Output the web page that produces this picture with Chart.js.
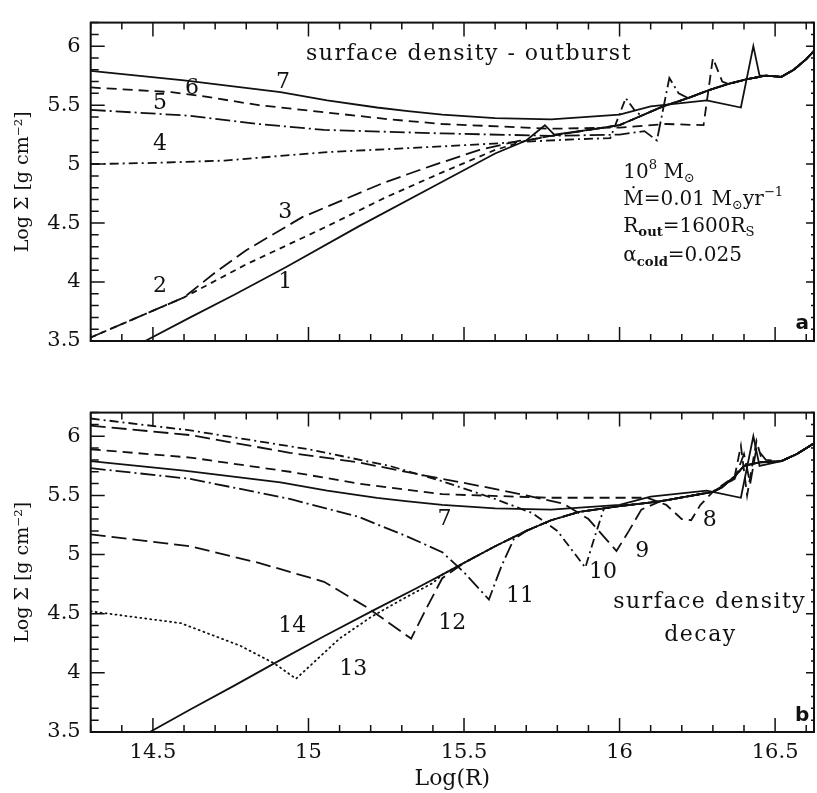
<!DOCTYPE html>
<html>
<head>
<meta charset="utf-8">
<script src="https://cdn.jsdelivr.net/npm/chart.js@4.4.1/dist/chart.umd.min.js"></script>
<style>
  html, body { margin: 0; padding: 0; background: #fff; }
  #wrap { position: relative; width: 817px; height: 793px; }
  .panel { position: absolute; left: 0; width: 817px; }
  #pa { top: 0; height: 380px; }
  #pb { top: 390px; height: 403px; }
</style>
</head>
<body>
<div id="wrap">
  <div class="panel" id="pa"><canvas id="chartA"></canvas></div>
  <div class="panel" id="pb"><canvas id="chartB"></canvas></div>
</div>
<script>
// axes
const xTicks = [14.5, 15, 15.5, 16, 16.5];
const xTickLabels = ['14.5', '15', '15.5', '16', '16.5'];
const yTicks = [3.5, 4, 4.5, 5, 5.5, 6];
const yTickLabels = ['3.5', '4', '4.5', '5', '5.5', '6'];

// --- panel a : outburst ---
// common outer (cold) profile all curves end on
const aTailX = [15.7, 15.78, 15.9, 16.0, 16.07, 16.14, 16.22, 16.29, 16.35, 16.41, 16.47, 16.52, 16.56, 16.6, 16.625];
const aTailY = [5.2, 5.24, 5.29, 5.33, 5.41, 5.49, 5.56, 5.63, 5.68, 5.72, 5.75, 5.74, 5.8, 5.89, 5.96];

const a1X = [14.475, 14.62, 14.76, 14.93, 15.16, 15.43, 15.6, 15.7, 15.76, 15.79];
const a1Y = [3.5, 3.70, 3.89, 4.13, 4.47, 4.85, 5.09, 5.2, 5.33, 5.25];
const a2X = [14.3, 14.45, 14.6, 14.8, 15.05, 15.25, 15.43, 15.6, 15.7];
const a2Y = [3.53, 3.7, 3.87, 4.15, 4.46, 4.72, 4.93, 5.12, 5.2];
const a3X = [14.3, 14.45, 14.6, 14.7, 14.8, 14.98, 15.24, 15.4, 15.55, 15.68];
const a3Y = [3.53, 3.7, 3.87, 4.08, 4.27, 4.55, 4.84, 4.99, 5.12, 5.2];
const a4X = [14.3, 14.5, 14.73, 15.05, 15.43, 15.7, 15.85, 15.97, 16.02, 16.05];
const a4Y = [5.0, 5.01, 5.03, 5.1, 5.15, 5.19, 5.21, 5.22, 5.56, 5.45];
const a5X = [14.3, 14.62, 14.84, 15.05, 15.43, 15.78, 16.0, 16.08, 16.12, 16.16, 16.19];
const a5Y = [5.46, 5.41, 5.34, 5.29, 5.26, 5.24, 5.25, 5.28, 5.2, 5.73, 5.6];
const a6X = [14.3, 14.56, 14.65, 14.84, 15.05, 15.26, 15.43, 15.78, 16.0, 16.15, 16.27, 16.3, 16.33];
const a6Y = [5.65, 5.61, 5.58, 5.5, 5.44, 5.38, 5.34, 5.3, 5.31, 5.34, 5.33, 5.9, 5.7];
const a7X = [14.3, 14.6, 14.91, 15.06, 15.22, 15.32, 15.43, 15.6, 15.78, 16.0, 16.1, 16.28, 16.39, 16.43, 16.45];
const a7Y = [5.79, 5.71, 5.61, 5.54, 5.48, 5.45, 5.42, 5.39, 5.38, 5.42, 5.49, 5.54, 5.48, 6.0, 5.75];

// --- panel b : decay ---
const bTailX = [15.43, 15.5, 15.6, 15.7, 15.78, 15.87, 16.0, 16.13, 16.3, 16.33, 16.37, 16.4, 16.45, 16.52, 16.57, 16.625];
const bTailY = [4.83, 4.93, 5.07, 5.2, 5.29, 5.36, 5.41, 5.45, 5.53, 5.57, 5.66, 5.75, 5.78, 5.79, 5.85, 5.94];

const b8X = [14.3, 14.62, 14.94, 15.16, 15.43, 15.78, 16.09, 16.15, 16.2, 16.23, 16.26, 16.3, 16.37, 16.39, 16.41, 16.44, 16.46];
const b8Y = [5.89, 5.82, 5.7, 5.6, 5.51, 5.48, 5.48, 5.42, 5.3, 5.29, 5.42, 5.53, 5.66, 5.92, 5.5, 5.96, 5.78];
const b9X = [14.3, 14.62, 14.94, 15.16, 15.37, 15.55, 15.7, 15.82, 15.9, 15.95, 15.99, 16.03, 16.07, 16.13, 16.3, 16.37, 16.4, 16.42, 16.44, 16.47];
const b9Y = [6.09, 6.01, 5.86, 5.78, 5.67, 5.58, 5.5, 5.43, 5.3, 5.15, 5.03, 5.2, 5.38, 5.45, 5.53, 5.64, 5.85, 5.6, 5.9, 5.8];
const b10X = [14.3, 14.62, 15.0, 15.26, 15.43, 15.6, 15.72, 15.8, 15.89, 15.92, 15.95];
const b10Y = [6.15, 6.05, 5.89, 5.75, 5.62, 5.47, 5.35, 5.2, 4.89, 5.15, 5.39];
const b11X = [14.3, 14.62, 14.94, 15.16, 15.32, 15.43, 15.5, 15.58, 15.62, 15.66];
const b11Y = [5.73, 5.64, 5.47, 5.32, 5.15, 5.02, 4.85, 4.62, 4.9, 5.13];
const b12X = [14.3, 14.62, 14.84, 15.05, 15.19, 15.26, 15.33, 15.38, 15.43];
const b12Y = [5.17, 5.07, 4.93, 4.77, 4.55, 4.42, 4.29, 4.55, 4.8];
const b13X = [14.3, 14.59, 14.78, 14.89, 14.96, 15.03, 15.1, 15.2, 15.3, 15.4];
const b13Y = [4.52, 4.42, 4.23, 4.08, 3.95, 4.12, 4.29, 4.47, 4.62, 4.76];
const b14X = [14.49, 14.62, 14.76, 14.89, 15.05, 15.21, 15.35];
const b14Y = [3.5, 3.69, 3.89, 4.08, 4.31, 4.53, 4.72];

// curve numbers (data coordinates)
const aLabelText = ['1', '2', '3', '4', '5', '6', '7'];
const aLabelX = [14.925, 14.523, 14.925, 14.523, 14.523, 14.626, 14.918];
const aLabelY = [4.0, 3.96, 4.59, 5.17, 5.52, 5.64, 5.69];
const bLabelText = ['7', '8', '9', '10', '11', '12', '13', '14'];
const bLabelX = [15.437, 16.29, 16.073, 15.947, 15.68, 15.462, 15.144, 14.948];
const bLabelY = [5.30, 5.29, 5.03, 4.85, 4.65, 4.42, 4.03, 4.39];

const SERIF = '"DejaVu Serif", serif';
const INK = '#111';
const DASH = {
    solid: [], shortDash: [6, 5], longDash: [15, 6], dash: [10, 6],
    dashDot: [9, 4, 2, 4], longDashDot: [15, 4, 2, 4], dot: [1, 4]
};

function withTail(hx, hy, tx, ty) {
    const pts = hx.map((x, i) => ({ x: x, y: hy[i] }));
    const last = hx[hx.length - 1];
    tx.forEach((x, i) => { if (x > last + 0.005) pts.push({ x: x, y: ty[i] }); });
    return pts;
}

function line(pts, dash) {
    return {
        data: pts, borderColor: INK, borderWidth: 1.8, borderDash: DASH[dash],
        borderCapStyle: dash === 'dot' ? 'round' : 'butt',
        pointRadius: 0, fill: false, tension: 0
    };
}

// sub/superscript text runs
function rich(ctx, parts, x, y, size) {
    let cx = x;
    parts.forEach(p => {
        const small = p.s === 'sub' || p.s === 'sup';
        const fs = small ? size * 0.66 : size;
        ctx.font = (p.b ? 'bold ' : '') + fs + 'px ' + SERIF;
        const dy = p.s === 'sub' ? size * 0.3 : p.s === 'sup' ? -size * 0.35 : 0;
        ctx.fillText(p.t, cx, y + dy);
        cx += ctx.measureText(p.t).width;
    });
}

function framePlugin(notes) {
    return {
        id: 'frame',
        afterDatasetsDraw(chart) {
            const { ctx, chartArea: a, scales: { x, y } } = chart;
            ctx.save();
            ctx.strokeStyle = INK;
            ctx.lineWidth = 2;
            ctx.strokeRect(a.left, a.top, a.right - a.left, a.bottom - a.top);
            ctx.lineWidth = 1.5;
            ctx.beginPath();
            for (let k = Math.ceil(x.min * 10); k <= Math.floor(x.max * 10); k++) {
                const px = x.getPixelForValue(k / 10), major = k % 5 === 0;
                const len = major ? 14 : 7;
                ctx.moveTo(px, a.bottom); ctx.lineTo(px, a.bottom - len);
                ctx.moveTo(px, a.top); ctx.lineTo(px, a.top + len);
            }
            for (let k = Math.ceil(y.min * 10); k <= Math.floor(y.max * 10); k++) {
                const py = y.getPixelForValue(k / 10), major = k % 5 === 0;
                ctx.moveTo(a.left, py); ctx.lineTo(a.left + (major ? 14 : 8), py);
                ctx.moveTo(a.right, py); ctx.lineTo(a.right - (major ? 8 : 3), py);
            }
            ctx.stroke();

            ctx.fillStyle = INK;
            ctx.textBaseline = 'middle';
            notes.forEach(n => {
                const px = x.getPixelForValue(n.x), py = y.getPixelForValue(n.y);
                ctx.letterSpacing = n.spacing || '0px';
                if (n.parts) {
                    ctx.textAlign = 'left';
                    rich(ctx, n.parts, px, py, n.size || 20);
                } else {
                    ctx.textAlign = n.align || 'center';
                    ctx.font = (n.bold ? 'bold ' : '') + (n.size || 21) + 'px ' + (n.font || SERIF);
                    ctx.fillText(n.t, px, py);
                }
            });
            ctx.restore();
        }
    };
}

function makeChart(id, datasets, notes, bottomAxis) {
    const tickFont = { family: SERIF, size: 21 };
    return new Chart(document.getElementById(id), {
        type: 'line',
        data: { datasets: datasets },
        options: {
            responsive: true, maintainAspectRatio: false, animation: false,
            layout: { padding: { top: bottomAxis ? 12 : 9.5, right: 3, left: 0, bottom: 0 } },
            plugins: { legend: { display: false }, tooltip: { enabled: false } },
            scales: {
                x: {
                    type: 'linear', min: 14.3, max: 16.625,
                    afterBuildTicks: s => { s.ticks = xTicks.map(v => ({ value: v })); },
                    afterFit: s => { s.height = bottomAxis ? 61 : 39; },
                    grid: { display: false, drawTicks: false }, border: { display: false },
                    ticks: {
                        display: bottomAxis, font: tickFont, color: INK, padding: 8,
                        maxRotation: 0, autoSkip: false,
                        callback: v => xTickLabels[xTicks.indexOf(v)]
                    },
                    title: {
                        display: bottomAxis, text: 'Log(R)', color: INK,
                        font: { family: SERIF, size: 22 }, padding: { top: 0, bottom: 1 }
                    }
                },
                y: {
                    type: 'linear', min: 3.5, max: 6.2,
                    afterBuildTicks: s => { s.ticks = yTicks.map(v => ({ value: v })); },
                    afterFit: s => { s.width = 90.7; },
                    grid: { display: false, drawTicks: false }, border: { display: false },
                    ticks: {
                        font: tickFont, color: INK, padding: 10,
                        callback: v => yTickLabels[yTicks.indexOf(v)]
                    },
                    title: {
                        display: true, text: 'Log Σ [g cm⁻²]', color: INK,
                        font: { family: SERIF, size: 19 }, padding: { top: 12, bottom: 0 }
                    }
                }
            }
        },
        plugins: [framePlugin(notes)]
    });
}

// panel a
const aSets = [
    line(withTail(a1X, a1Y, aTailX, aTailY), 'solid'),
    line(withTail(a2X, a2Y, aTailX, aTailY), 'shortDash'),
    line(withTail(a3X, a3Y, aTailX, aTailY), 'longDash'),
    line(withTail(a4X, a4Y, aTailX, aTailY), 'dashDot'),
    line(withTail(a5X, a5Y, aTailX, aTailY), 'longDashDot'),
    line(withTail(a6X, a6Y, aTailX, aTailY), 'dash'),
    line(withTail(a7X, a7Y, aTailX, aTailY), 'solid')
];
const aNotes = aLabelText.map((t, i) => ({ t: t, x: aLabelX[i], y: aLabelY[i], size: 22 }));
aNotes.push({ t: 'surface density - outburst', x: 15.516, y: 5.93, size: 22, spacing: '1.5px' });
aNotes.push({ x: 16.012, y: 4.93, parts: [{ t: '10' }, { t: '8', s: 'sup' }, { t: ' M' }, { t: '⊙', s: 'sub' }] });
aNotes.push({ x: 16.012, y: 4.70, parts: [{ t: 'Ṁ=0.01 M' }, { t: '⊙', s: 'sub' }, { t: 'yr' }, { t: '−1', s: 'sup' }] });
aNotes.push({ x: 16.012, y: 4.47, parts: [{ t: 'R' }, { t: 'out', s: 'sub', b: true }, { t: '=1600R' }, { t: 'S', s: 'sub' }] });
aNotes.push({ x: 16.012, y: 4.22, parts: [{ t: 'α' }, { t: 'cold', s: 'sub', b: true }, { t: '=0.025' }] });
aNotes.push({ t: 'a', x: 16.587, y: 3.65, bold: true, size: 20, font: '"DejaVu Sans", sans-serif' });
makeChart('chartA', aSets, aNotes, false);

// panel b
const bSets = [
    line(withTail(a7X, a7Y, bTailX, bTailY), 'solid'),
    line(withTail(b8X, b8Y, bTailX, bTailY), 'dash'),
    line(withTail(b9X, b9Y, bTailX, bTailY), 'longDash'),
    line(withTail(b10X, b10Y, bTailX, bTailY), 'dashDot'),
    line(withTail(b11X, b11Y, bTailX, bTailY), 'longDashDot'),
    line(withTail(b12X, b12Y, bTailX, bTailY), 'longDash'),
    line(withTail(b13X, b13Y, bTailX, bTailY), 'dot'),
    line(withTail(b14X, b14Y, bTailX, bTailY), 'solid')
];
const bNotes = bLabelText.map((t, i) => ({ t: t, x: bLabelX[i], y: bLabelY[i], size: 22 }));
bNotes.push({ t: 'surface density', x: 16.29, y: 4.6, size: 22, spacing: '1.5px' });
bNotes.push({ t: 'decay', x: 16.26, y: 4.32, size: 22, spacing: '1.5px' });
bNotes.push({ t: 'b', x: 16.587, y: 3.64, bold: true, size: 20, font: '"DejaVu Sans", sans-serif' });
makeChart('chartB', bSets, bNotes, true);
</script>
</body>
</html>
